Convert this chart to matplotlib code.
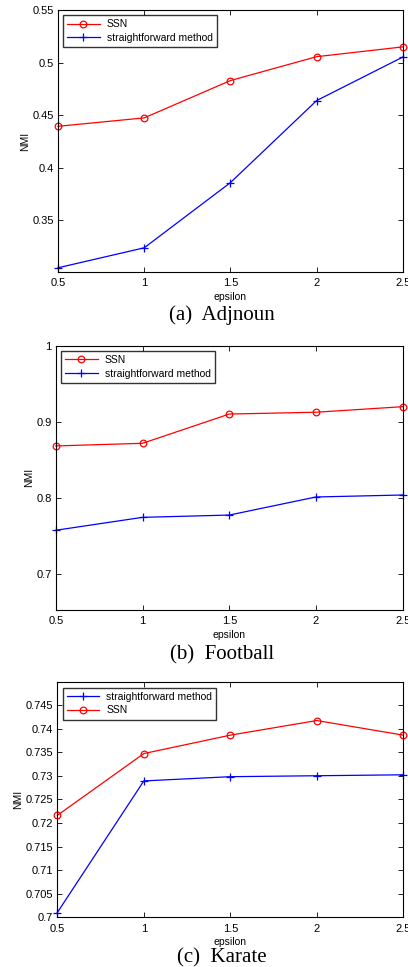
import matplotlib.pyplot as plt

# epsilon values shared by all three panels
epsilon = [0.5, 1, 1.5, 2, 2.5]

# Adjnoun
adj_ssn = [0.4395, 0.4475, 0.483, 0.5057, 0.515]
adj_sf = [0.305, 0.324, 0.386, 0.464, 0.5054]

# Football
foot_ssn = [0.868, 0.8715, 0.910, 0.9124, 0.9197]
foot_sf = [0.757, 0.774, 0.777, 0.8008, 0.8034]

# Karate
kar_ssn = [0.7216, 0.7347, 0.7386, 0.7417, 0.7386]
kar_sf = [0.701, 0.7289, 0.7298, 0.7300, 0.7302]

captions = ['(a)  Adjnoun', '(b)  Football', '(c)  Karate']

plt.rcParams['font.family'] = 'Liberation Sans'

fig = plt.figure(figsize=(4.08, 9.67), dpi=100)

# axes boxes in figure fractions
ax1 = fig.add_axes([0.142, 0.7187, 0.8456, 0.2709])
ax2 = fig.add_axes([0.137, 0.3692, 0.850, 0.2733])
ax3 = fig.add_axes([0.1405, 0.0514, 0.848, 0.243])


def draw_ssn(ax, y):
    ax.plot(epsilon, y, color='red', lw=0.9, marker='o', ms=4.8,
            mfc='none', mec='red', mew=0.9, label='SSN', clip_on=False)


def draw_sf(ax, y):
    ax.plot(epsilon, y, color='blue', lw=0.9, marker='+', ms=5.5,
            mew=0.9, label='straightforward method', clip_on=False)


draw_ssn(ax1, adj_ssn)
draw_sf(ax1, adj_sf)
ax1.set_ylim(0.301, 0.55)
ax1.set_yticks([0.35, 0.4, 0.45, 0.5, 0.55])
ax1.set_yticklabels(['0.35', '0.4', '0.45', '0.5', '0.55'])

draw_ssn(ax2, foot_ssn)
draw_sf(ax2, foot_sf)
ax2.set_ylim(0.652, 1.0)
ax2.set_yticks([0.7, 0.8, 0.9, 1.0])
ax2.set_yticklabels(['0.7', '0.8', '0.9', '1'])

draw_sf(ax3, kar_sf)
draw_ssn(ax3, kar_ssn)
ax3.set_ylim(0.7, 0.7498)
kt = [0.7, 0.705, 0.71, 0.715, 0.72, 0.725, 0.73, 0.735, 0.74, 0.745]
ax3.set_yticks(kt)
ax3.set_yticklabels(['0.7', '0.705', '0.71', '0.715', '0.72', '0.725',
                     '0.73', '0.735', '0.74', '0.745'])

for ax in (ax1, ax2, ax3):
    ax.set_xlim(0.5, 2.5)
    ax.set_xticks(epsilon)
    ax.set_xticklabels(['0.5', '1', '1.5', '2', '2.5'])
    ax.tick_params(direction='in', top=True, right=True, length=3.5,
                   width=0.6, labelsize=8)
    ax.tick_params(axis='x', pad=4.5)
    ax.tick_params(axis='y', pad=3)
    for s in ax.spines.values():
        s.set_linewidth(0.8)
    ax.set_xlabel('epsilon', fontsize=7.5, labelpad=2.5)
    ax.set_ylabel('NMI', fontsize=7.5, labelpad=1.5)
    leg = ax.legend(loc='upper left', fontsize=7.5, frameon=True, fancybox=False,
                    handlelength=3.1, borderpad=0.4, labelspacing=0.35,
                    handletextpad=0.7, borderaxespad=0.5)
    leg.get_frame().set_edgecolor('black')
    leg.get_frame().set_linewidth(1.0)

cx = 222 / 408
fig.text(cx, 1 - 315 / 967, captions[0], ha='center', va='center',
         fontsize=15, family='Liberation Serif')
fig.text(cx, 1 - 655 / 967, captions[1], ha='center', va='center',
         fontsize=15, family='Liberation Serif')
fig.text(cx, 1 - 958 / 967, captions[2], ha='center', va='center',
         fontsize=15, family='Liberation Serif')

fig.savefig('out.png', dpi=100)
